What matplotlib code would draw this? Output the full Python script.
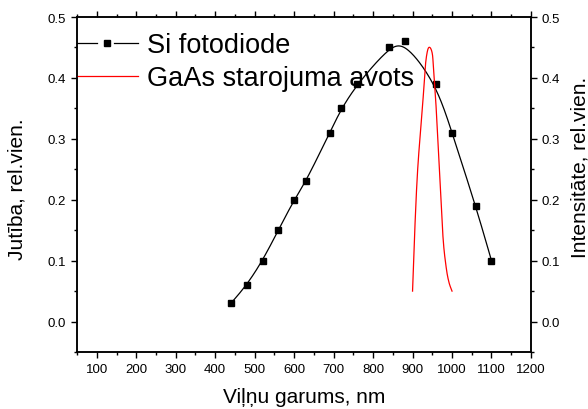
import numpy as np
import matplotlib
matplotlib.use('Agg')
import matplotlib.pyplot as plt
from matplotlib.lines import Line2D
from matplotlib.legend_handler import HandlerBase
from matplotlib.ticker import MultipleLocator

plt.rcParams['font.family'] = ['Liberation Sans', 'DejaVu Sans']

# Si photodiode sensitivity (left axis)
si_wl = [440, 480, 520, 560, 600, 630, 690, 720, 760, 840, 880, 960, 1000, 1060, 1100]
si_val = [0.03, 0.06, 0.10, 0.15, 0.20, 0.23, 0.31, 0.35, 0.39, 0.45, 0.46, 0.39, 0.31, 0.19, 0.10]

# GaAs emitter intensity (right axis)
gaas_wl = [900, 905, 913, 926, 932, 938, 944, 950, 953, 959, 968, 977, 985, 992, 1000]
gaas_val = [0.05, 0.14, 0.25, 0.36, 0.417, 0.445, 0.45, 0.44, 0.417, 0.36, 0.25, 0.14, 0.09, 0.065, 0.05]

x_ticks = list(range(100, 1201, 100))
y_ticks = [0.0, 0.1, 0.2, 0.3, 0.4, 0.5]


def bspline(xs, ys, n=40):
    """Uniform cubic B-spline using the points as control points"""
    p = np.column_stack([xs, ys]).astype(float)
    p = np.vstack([p[0], p[0], p, p[-1], p[-1]])
    t = np.linspace(0, 1, n)
    out = []
    for i in range(len(p) - 3):
        b0 = (1 - t) ** 3 / 6
        b1 = (3 * t ** 3 - 6 * t ** 2 + 4) / 6
        b2 = (-3 * t ** 3 + 3 * t ** 2 + 3 * t + 1) / 6
        b3 = t ** 3 / 6
        seg = (np.outer(b0, p[i]) + np.outer(b1, p[i + 1])
               + np.outer(b2, p[i + 2]) + np.outer(b3, p[i + 3]))
        out.append(seg)
    out = np.vstack(out)
    return out[:, 0], out[:, 1]


def catmull_rom(xs, ys, n=30):
    """Interpolating spline through the points"""
    p = np.column_stack([xs, ys]).astype(float)
    p = np.vstack([p[0], p, p[-1]])
    t = np.linspace(0, 1, n)[:, None]
    out = []
    for i in range(1, len(p) - 2):
        p0, p1, p2, p3 = p[i - 1], p[i], p[i + 1], p[i + 2]
        seg = 0.5 * ((2 * p1) + (-p0 + p2) * t
                     + (2 * p0 - 5 * p1 + 4 * p2 - p3) * t ** 2
                     + (-p0 + 3 * p1 - 3 * p2 + p3) * t ** 3)
        out.append(seg)
    out = np.vstack(out)
    return out[:, 0], out[:, 1]


class GapLineHandler(HandlerBase):
    """Legend key like Origin's: line, gap, marker, gap, line"""
    def create_artists(self, legend, orig_handle, xdescent, ydescent,
                       width, height, fontsize, trans):
        y = height / 2 - ydescent
        x0 = -xdescent
        arts = []
        for a, b in [(0.0, 0.32), (0.61, 1.0)]:
            arts.append(Line2D([x0 + a * width, x0 + b * width], [y, y],
                               color='black', lw=0.9, transform=trans))
        arts.append(Line2D([x0 + 0.5 * width], [y], marker='s', ms=5,
                           color='black', ls='none', transform=trans))
        return arts


fig = plt.figure(figsize=(5.88, 4.10), dpi=100)
ax = fig.add_axes([0.131, 0.139, 0.772, 0.817])
ax2 = ax.twinx()

bx, by = bspline(si_wl, si_val)
ax.plot(bx, by, color='black', lw=0.9)
ax.plot(si_wl, si_val, ls='none', marker='s', ms=5, color='black')

rx, ry = catmull_rom(gaas_wl, gaas_val)
ax2.plot(rx, ry, color='red', lw=0.9)

for a in (ax, ax2):
    a.set_xlim(50, 1200)
    a.set_ylim(-0.05, 0.5)
    a.set_yticks(y_ticks)
    a.yaxis.set_minor_locator(MultipleLocator(0.05))
    for s in a.spines.values():
        s.set_linewidth(1.1)

ax.set_xticks(x_ticks)
ax.xaxis.set_minor_locator(MultipleLocator(50))
ax.set_yticklabels([f'{v:.1f}' for v in y_ticks])
ax2.set_yticklabels([f'{v:.1f}' for v in y_ticks])

ax.tick_params(which='both', direction='out', top=True, labelsize=9.5, width=1)
ax.tick_params(which='major', length=4.2)
ax.tick_params(which='minor', length=2.4)
ax2.tick_params(which='both', direction='out', labelsize=9.5, width=1)
ax2.tick_params(which='major', length=4.2)
ax2.tick_params(which='minor', length=2.4)

ax.set_xlabel('Viļņu garums, nm', fontsize=15, labelpad=9)
ax.set_ylabel('Jutība, rel.vien.', fontsize=15)
ax2.set_ylabel('Intensitāte, rel.vien.', fontsize=15)
ax.yaxis.set_label_coords(-0.112, 0.49)
ax2.yaxis.set_label_coords(1.087, 0.555)

h_si = Line2D([], [], color='black', lw=0.9, marker='s', ms=5)
h_ga = Line2D([], [], color='red', lw=0.9)
ax.legend([h_si, h_ga], ['Si fotodiode', 'GaAs starojuma avots'],
          handler_map={h_si: GapLineHandler()},
          loc='upper left', bbox_to_anchor=(0.0, 0.955), frameon=False,
          fontsize=19.5, handlelength=2.25, handletextpad=0.35,
          borderaxespad=0, borderpad=0, labelspacing=0.27)

fig.savefig('out.png', dpi=100)
